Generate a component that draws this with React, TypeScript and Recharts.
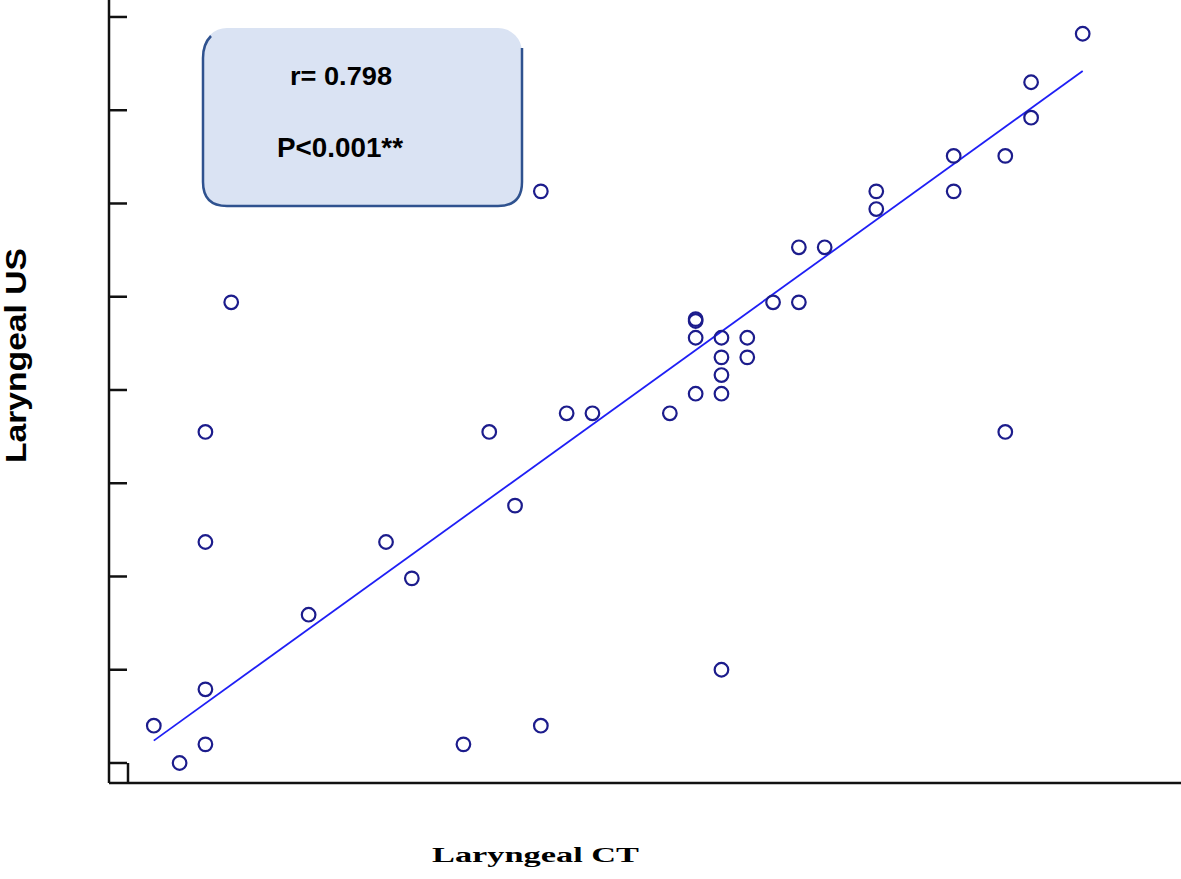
import { ScatterChart, Scatter, XAxis, YAxis, ReferenceLine, Customized } from "recharts";

// Laryngeal CT (x) vs Laryngeal US (y)
const ctValues = [
  1, 2, 3, 3, 3, 3, 4, 7, 10, 11, 13, 14, 15, 16, 16, 17, 18, 21, 22, 22, 22, 22,
  23, 23, 23, 23, 23, 24, 24, 25, 26, 26, 27, 29, 29, 32, 32, 34, 34, 35, 35, 37,
];
const usValues = [
  0.4, 0.0, 0.2, 0.79, 2.37, 3.55, 4.94, 1.59, 2.37, 1.98, 0.2, 3.55, 2.76, 0.4, 6.13, 3.75,
  3.75, 3.75, 3.96, 4.56, 4.74, 4.76, 1.0, 3.96, 4.16, 4.35, 4.56, 4.35, 4.56, 4.94, 4.94,
  5.53, 5.53, 5.94, 6.13, 6.13, 6.51, 3.55, 6.51, 6.92, 7.3, 7.82,
];

// fitted line end points
const fitCt = [1, 37];
const fitUs = [0.24, 7.42];

const usTicks = [0, 1, 2, 3, 4, 5, 6, 7, 8];
const ctTicks = [0];

const statLines = ["r= 0.798", "P<0.001**"];

const points = ctValues.map((ct, i) => ({ ct, us: usValues[i] }));

const AXIS = "#111";

const Dot = (props: any) => {
  const { cx, cy } = props;
  if (cx == null || cy == null) return null;
  return <circle cx={cx} cy={cy} r={6.8} fill="none" stroke="#1c1c8c" strokeWidth={2.2} />;
};

// no tick labels, but keep the tick lines
const NoLabel = () => <g />;

const Overlay = () => (
  <g>
    <rect x={203} y={28} width={319} height={178} rx={24} fill="#dae3f3" />
    <path
      d="M211,36 Q203,44 203,58 L203,182 Q203,206 227,206 L498,206 Q522,206 522,182 L522,48"
      fill="none"
      stroke="#2f528f"
      strokeWidth={2.5}
    />
    <text
      x={290}
      y={85}
      fontFamily="'Liberation Sans', Arial, sans-serif"
      fontWeight="bold"
      fontSize={26}
      textLength={102}
      lengthAdjust="spacingAndGlyphs"
      fill="#000"
    >
      {statLines[0]}
    </text>
    <text
      x={277}
      y={157}
      fontFamily="'Liberation Sans', Arial, sans-serif"
      fontWeight="bold"
      fontSize={28}
      textLength={126}
      lengthAdjust="spacingAndGlyphs"
      fill="#000"
    >
      {statLines[1]}
    </text>
    <text
      transform="translate(26,463) rotate(-90)"
      fontFamily="'Liberation Sans', Arial, sans-serif"
      fontWeight="bold"
      fontSize={29}
      textLength={215}
      lengthAdjust="spacingAndGlyphs"
      fill="#000"
    >
      Laryngeal US
    </text>
    <text
      x={432}
      y={862}
      fontFamily="'Liberation Serif', 'Times New Roman', serif"
      fontWeight="bold"
      fontSize={21}
      textLength={207}
      lengthAdjust="spacingAndGlyphs"
      fill="#000"
    >
      Laryngeal CT
    </text>
  </g>
);

export default function App() {
  return (
    <div style={{ position: "absolute", left: 0, top: 0, width: 1181, height: 879, background: "#fff" }}>
      <ScatterChart width={1181} height={879} margin={{ top: 0, right: 0, bottom: 96, left: 109 }}>
        <XAxis
          type="number"
          dataKey="ct"
          domain={[-0.7364, 40.81]}
          allowDataOverflow
          ticks={ctTicks}
          tick={<NoLabel />}
          mirror
          tickSize={20}
          axisLine={{ stroke: AXIS, strokeWidth: 2.5 }}
          tickLine={{ stroke: AXIS, strokeWidth: 2.5 }}
        />
        <YAxis
          type="number"
          dataKey="us"
          domain={[-0.2145, 8.182]}
          allowDataOverflow
          ticks={usTicks}
          tick={<NoLabel />}
          mirror
          tickSize={18}
          axisLine={{ stroke: AXIS, strokeWidth: 2.5 }}
          tickLine={{ stroke: AXIS, strokeWidth: 2.5 }}
        />
        <ReferenceLine
          segment={[
            { x: fitCt[0], y: fitUs[0] },
            { x: fitCt[1], y: fitUs[1] },
          ]}
          stroke="#1f1ff5"
          strokeWidth={1.8}
          ifOverflow="visible"
        />
        <Scatter data={points} shape={Dot} isAnimationActive={false} />
        <Customized component={Overlay} />
      </ScatterChart>
    </div>
  );
}
